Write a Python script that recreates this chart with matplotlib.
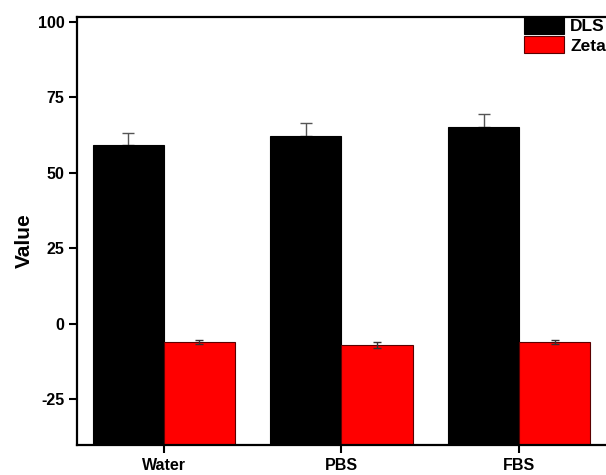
import matplotlib
matplotlib.use("Agg")
import matplotlib.pyplot as plt
import numpy as np

categories = ["Water", "PBS", "FBS"]
dls_values = [59.1, 62.2, 65.2]
dls_errors = [4.2, 4.2, 4.2]
zeta_values = [-6.0, -7.1, -6.0]
zeta_errors = [0.7, 1.0, 0.7]
y_ticks = [-25, 0, 25, 50, 75, 100]

plt.rcParams['font.family'] = ['Liberation Sans', 'DejaVu Sans']
plt.rcParams['font.weight'] = 'bold'

fig = plt.figure(figsize=(6.06, 4.75), dpi=100)
W, H = 606, 475
ax = fig.add_axes([77 / W, 1 - 445 / H, (606 - 77) / W, (445 - 17) / H])

y_bottom, y_top = -40.2, 101.6
x = np.arange(len(categories))
width = 0.4
ax.bar(x - width / 2, np.array(dls_values) - y_bottom, width, bottom=y_bottom,
       color="black", edgecolor="black", linewidth=0.8, label="DLS", zorder=2)
ax.bar(x + width / 2, np.array(zeta_values) - y_bottom, width, bottom=y_bottom,
       color="#ff0000", edgecolor="#5a0000", linewidth=0.8, label="Zeta", zorder=2)
ax.errorbar(x - width / 2, dls_values, yerr=[[0] * 3, dls_errors], fmt="none",
            ecolor="#555555", elinewidth=1.0, capsize=4, capthick=1.0, zorder=1)
ax.errorbar(x + width / 2, zeta_values, yerr=zeta_errors, fmt="none",
            ecolor="#333333", elinewidth=1.0, capsize=3, capthick=1.0, zorder=3)

ax.set_xlim(-0.49, 2.49)
ax.set_ylim(y_bottom, y_top)
ax.set_xticks(x)
ax.set_xticklabels(categories, fontsize=11.5, fontweight="bold")
ax.set_yticks(y_ticks)
ax.set_yticklabels([str(t) for t in y_ticks], fontsize=11.5, fontweight="bold")
ax.tick_params(axis="both", direction="out", length=6, width=1.5, pad=3)

for s in ["left", "bottom", "top"]:
    ax.spines[s].set_linewidth(1.6)
ax.spines["right"].set_visible(False)

ax.set_ylabel("Value", fontsize=15, fontweight="bold")
ax.yaxis.set_label_coords(-0.082, 0.477)

leg = ax.legend(loc="upper right", bbox_to_anchor=(1.0, 1.0), frameon=False,
                borderaxespad=0, borderpad=0, fontsize=12.5,
                handlelength=2.3, handleheight=1.15, labelspacing=0.1,
                handletextpad=0.35)
for t in leg.get_texts():
    t.set_fontweight("bold")

fig.savefig("out.png", dpi=100)
